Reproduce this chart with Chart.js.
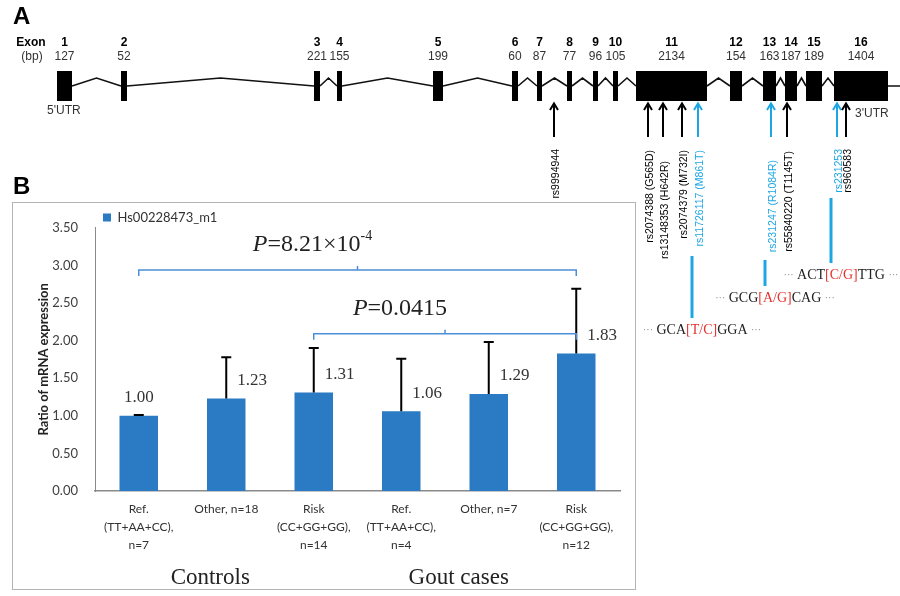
<!DOCTYPE html>
<html>
<head>
<meta charset="utf-8">
<title>ABCG2 exons and mRNA expression</title>
<script src="https://cdn.jsdelivr.net/npm/chart.js@4.4.1/dist/chart.umd.min.js"></script>
<style>
  html, body { margin: 0; padding: 0; background: #fff; }
  #page { position: relative; width: 900px; height: 596px; overflow: hidden; background: #fff; }
  #geneWrap { position: absolute; left: 0; top: 0; width: 900px; height: 596px; z-index: 0; }
  #barBox { position: absolute; left: 12px; top: 202px; width: 624px; height: 388px; border: 1px solid #b4b4b4; box-sizing: border-box; background: #fff; z-index: 1; }
  #barInner { position: relative; width: 622px; height: 386px; }
  #labelB { position: absolute; left: 13px; top: 172px; font: bold 24px "Liberation Sans", Arial, sans-serif; color: #000; z-index: 2; }
</style>
</head>
<body>
<div id="page">
  <div id="geneWrap"><canvas id="gene" width="900" height="596"></canvas></div>
  <div id="labelB">B</div>
  <div id="barBox"><div id="barInner"><canvas id="bars"></canvas></div></div>
</div>
<script>
// ---- panel A: exon map (schematic positions along the drawing axis) ----
const exonNumbers = ['1', '2', '3', '4', '5', '6', '7', '8', '9', '10', '11', '12', '13', '14', '15', '16'];
const exonLengths = [127, 52, 221, 155, 199, 60, 87, 77, 96, 105, 2134, 154, 163, 187, 189, 1404];
const exonStart = [57, 121, 314, 337, 433, 512, 537, 567, 593, 613, 636, 730, 763, 785, 806, 834];
const exonEnd = [72, 127, 320, 342, 443, 518, 542, 572, 598, 618, 707, 742, 776, 797, 822, 888];

const snpNames = ['rs9994944', 'rs2074388 (G565D)', 'rs13148353 (H642R)', 'rs2074379 (M732I)',
  'rs11726117 (M861T)', 'rs231247 (R1084R)', 'rs55840220 (T1145T)', 'rs231253', 'rs960583'];
const snpPositions = [554, 648, 663, 682, 698, 771, 787, 837, 846];
const snpTagged = [false, false, false, false, true, true, false, true, false];

// flanking sequence of the three tagged SNPs
const seqLeft = ['GCA', 'GCG', 'ACT'];
const seqAllele = ['T/C', 'A/G', 'C/G'];
const seqRight = ['GGA', 'CAG', 'TTG'];

// ---- panel B: expression ----
const categories = [
  ['Ref.', '(TT+AA+CC),', 'n=7'],
  ['Other, n=18'],
  ['Risk', '(CC+GG+GG),', 'n=14'],
  ['Ref.', '(TT+AA+CC),', 'n=4'],
  ['Other, n=7'],
  ['Risk', '(CC+GG+GG),', 'n=12'],
];
const groupNames = ['Controls', 'Gout cases'];
const expression = [1.00, 1.23, 1.31, 1.06, 1.29, 1.83];
const errorUp = [0.01, 0.55, 0.59, 0.70, 0.69, 0.86];

const pText = ['8.21×10', '0.0415'];
const pExponent = ['-4', ''];
const pFrom = [0, 2];
const pTo = [5, 5];
const pLevel = [2.94, 2.09];

const BLUE_SNP = '#1da6e4';
const SANS = '"Liberation Sans", Arial, sans-serif';
const SERIF = '"Liberation Serif", "Times New Roman", serif';
const LATO = 'Lato, "Open Sans", sans-serif';

const genePlugin = {
  id: 'geneDiagram',
  afterDraw(chart) {
    const { ctx, scales: { x, y } } = chart;
    const px = v => x.getPixelForValue(v);
    const py = v => y.getPixelForValue(v);
    const mid = 86;
    const last = exonStart.length - 1;

    ctx.save();
    ctx.fillStyle = '#000';
    ctx.textBaseline = 'middle';
    ctx.textAlign = 'left';
    ctx.font = `bold 24px ${SANS}`;
    ctx.fillText('A', px(13), py(17));

    ctx.textAlign = 'center';
    ctx.font = `bold 12px ${SANS}`;
    ctx.fillText('Exon', px(31), py(43));
    ctx.font = `12px ${SANS}`;
    ctx.fillStyle = '#333';
    ctx.fillText('(bp)', px(32), py(57));

    // introns: little roof between neighbouring exons
    ctx.strokeStyle = '#111';
    ctx.lineWidth = 1.6;
    ctx.beginPath();
    for (let i = 0; i < last; i++) {
      const a = exonEnd[i];
      const b = exonStart[i + 1];
      ctx.moveTo(px(a), py(mid));
      ctx.lineTo(px((a + b) / 2), py(78));
      ctx.lineTo(px(b), py(mid));
    }
    ctx.moveTo(px(exonEnd[last]), py(mid));
    ctx.lineTo(px(900), py(mid));
    ctx.stroke();

    // exons and their labels
    exonStart.forEach((s, i) => {
      const e = exonEnd[i];
      ctx.fillStyle = '#000';
      ctx.fillRect(px(s), py(71), px(e) - px(s), py(101) - py(71));
      const c = px((s + e) / 2);
      ctx.font = `bold 12px ${SANS}`;
      ctx.fillText(exonNumbers[i], c, py(43));
      ctx.fillStyle = '#333';
      ctx.font = `12px ${SANS}`;
      ctx.fillText(String(exonLengths[i]), c, py(57));
    });

    ctx.fillStyle = '#333';
    ctx.font = `12px ${SANS}`;
    ctx.textAlign = 'left';
    ctx.fillText("5'UTR", px(47), py(111));
    ctx.fillText("3'UTR", px(855), py(114));

    // SNP arrows and rotated names (two names sit a little lower)
    const nameTop = [149, 150, 161, 150, 150, 160, 151, 149, 149];
    snpPositions.forEach((p, i) => {
      const col = snpTagged[i] ? BLUE_SNP : '#000';
      const sx = px(p);
      ctx.strokeStyle = col;
      ctx.lineWidth = 2;
      ctx.beginPath();
      ctx.moveTo(sx, py(104));
      ctx.lineTo(sx, py(137));
      ctx.moveTo(sx - 4, py(110));
      ctx.lineTo(sx, py(103.5));
      ctx.lineTo(sx + 4, py(110));
      ctx.stroke();

      ctx.save();
      ctx.translate(sx + 2, py(nameTop[i]));
      ctx.rotate(-Math.PI / 2);
      ctx.fillStyle = col;
      ctx.font = `10.5px ${SANS}`;
      ctx.textAlign = 'right';
      ctx.textBaseline = 'middle';
      ctx.fillText(snpNames[i], 0, 0);
      ctx.restore();
    });

    // tagged SNPs: connector line and flanking sequence
    const lineTop = [256, 260, 198];
    const seqRow = [330, 298, 275];
    const tagged = snpPositions.filter((p, i) => snpTagged[i]);
    tagged.forEach((p, k) => {
      const lx = px(p - 6);
      ctx.strokeStyle = BLUE_SNP;
      ctx.lineWidth = 3;
      ctx.beginPath();
      ctx.moveTo(lx, py(lineTop[k]));
      ctx.lineTo(lx, py(seqRow[k] - 12));
      ctx.stroke();

      const pieces = [
        { t: '···', f: `10px ${SERIF}`, c: '#888' },
        { t: ' ' + seqLeft[k], f: `14px ${SERIF}`, c: '#222' },
        { t: '[' + seqAllele[k] + ']', f: `14px ${SERIF}`, c: '#e5322d' },
        { t: seqRight[k] + ' ', f: `14px ${SERIF}`, c: '#222' },
        { t: '···', f: `10px ${SERIF}`, c: '#888' },
      ];
      let w = 0;
      pieces.forEach(pc => { ctx.font = pc.f; w += ctx.measureText(pc.t).width; });
      let cx = lx + 10 - w / 2;
      ctx.textAlign = 'left';
      ctx.textBaseline = 'middle';
      pieces.forEach(pc => {
        ctx.font = pc.f;
        ctx.fillStyle = pc.c;
        ctx.fillText(pc.t, cx, py(seqRow[k]));
        cx += ctx.measureText(pc.t).width;
      });
    });
    ctx.restore();
  },
};

new Chart(document.getElementById('gene'), {
  type: 'scatter',
  data: { datasets: [{ data: [] }] },
  options: {
    responsive: false,
    animation: false,
    devicePixelRatio: 1,
    layout: { padding: 0 },
    scales: {
      x: { type: 'linear', min: 0, max: 900, display: false },
      y: { type: 'linear', min: 0, max: 596, reverse: true, display: false },
    },
    plugins: { legend: { display: false }, tooltip: { enabled: false } },
  },
  plugins: [genePlugin],
});

const extrasPlugin = {
  id: 'barExtras',
  afterDatasetsDraw(chart) {
    const { ctx, scales: { x, y } } = chart;
    const bars = chart.getDatasetMeta(0).data;
    ctx.save();

    // upper error bars
    ctx.strokeStyle = '#000';
    ctx.lineWidth = 2;
    bars.forEach((bar, i) => {
      const top = y.getPixelForValue(expression[i] + errorUp[i]);
      ctx.beginPath();
      ctx.moveTo(bar.x, bar.y);
      ctx.lineTo(bar.x, top);
      ctx.moveTo(bar.x - 5, top);
      ctx.lineTo(bar.x + 5, top);
      ctx.stroke();
    });

    // value labels
    ctx.fillStyle = '#333';
    ctx.font = `17px ${SERIF}`;
    ctx.textBaseline = 'middle';
    bars.forEach((bar, i) => {
      const txt = expression[i].toFixed(2);
      if (errorUp[i] < 0.05) {
        ctx.textAlign = 'center';
        ctx.fillText(txt, bar.x, bar.y - 18);
      } else {
        ctx.textAlign = 'left';
        ctx.fillText(txt, bar.x + 11, bar.y - 18);
      }
    });

    // comparison brackets with P values
    pLevel.forEach((lv, k) => {
      const x1 = x.getPixelForValue(pFrom[k]);
      const x2 = x.getPixelForValue(pTo[k]);
      const yy = y.getPixelForValue(lv);
      const xm = (x1 + x2) / 2;
      ctx.strokeStyle = '#4a8fd8';
      ctx.lineWidth = 1.5;
      ctx.beginPath();
      ctx.moveTo(x1, yy + 6);
      ctx.lineTo(x1, yy);
      ctx.lineTo(x2, yy);
      ctx.lineTo(x2, yy + 6);
      ctx.moveTo(xm, yy);
      ctx.lineTo(xm, yy - 4);
      ctx.stroke();

      const main = `24px ${SERIF}`;
      const ital = `italic 24px ${SERIF}`;
      const sup = `14px ${SERIF}`;
      ctx.font = ital; const wP = ctx.measureText('P').width;
      ctx.font = main; const wT = ctx.measureText('=' + pText[k]).width;
      ctx.font = sup; const wE = pExponent[k] ? ctx.measureText(pExponent[k]).width : 0;
      let tx = xm - 45 - (wP + wT + wE) / 2;
      const ty = yy - 25;
      ctx.fillStyle = '#222';
      ctx.textAlign = 'left';
      ctx.font = ital; ctx.fillText('P', tx, ty); tx += wP;
      ctx.font = main; ctx.fillText('=' + pText[k], tx, ty); tx += wT;
      if (wE) { ctx.font = sup; ctx.fillText(pExponent[k], tx, ty - 9); }
    });

    // group captions under the categories
    const groupCenter = [x.getPixelForValue(1) - 16, x.getPixelForValue(4) - 30];
    ctx.fillStyle = '#222';
    ctx.font = `23px ${SERIF}`;
    ctx.textAlign = 'center';
    groupNames.forEach((g, k) => ctx.fillText(g, groupCenter[k], 375));

    // y axis title
    ctx.save();
    ctx.translate(31, (chart.chartArea.top + chart.chartArea.bottom) / 2);
    ctx.rotate(-Math.PI / 2);
    ctx.font = `bold 13px ${LATO}`;
    ctx.fillStyle = '#222';
    ctx.textAlign = 'center';
    ctx.fillText('Ratio of mRNA expression', 0, 0);
    ctx.restore();

    ctx.restore();
  },
};

new Chart(document.getElementById('bars'), {
  type: 'bar',
  data: {
    labels: categories,
    datasets: [{
      label: 'Hs00228473_m1',
      data: expression,
      backgroundColor: '#2a7bc3',
      barPercentage: 0.44,
      categoryPercentage: 1,
    }],
  },
  options: {
    responsive: true,
    maintainAspectRatio: false,
    animation: false,
    devicePixelRatio: 1,
    layout: { padding: { top: 14, right: 15, left: 0, bottom: 0 } },
    scales: {
      x: {
        grid: { display: false, drawTicks: false },
        border: { display: true, color: '#8a8a8a', width: 1.5 },
        ticks: { font: { family: LATO, size: 12, lineHeight: 1.5 }, color: '#333', padding: 9, maxRotation: 0, autoSkip: false },
        afterFit: s => { s.height = 98; },
      },
      y: {
        min: 0,
        max: 3.5,
        grid: { display: false, drawTicks: false },
        border: { display: true, color: '#8a8a8a', width: 1 },
        ticks: { stepSize: 0.5, callback: v => v.toFixed(2), font: { family: LATO, size: 13 }, color: '#404040', padding: 17 },
        afterFit: s => { s.width = 82; },
      },
    },
    plugins: {
      tooltip: { enabled: false },
      legend: {
        position: 'chartArea',
        align: 'start',
        labels: { boxWidth: 8, boxHeight: 8, font: { family: LATO, size: 13 }, color: '#333', padding: 8 },
      },
    },
  },
  plugins: [extrasPlugin],
});
</script>
</body>
</html>
